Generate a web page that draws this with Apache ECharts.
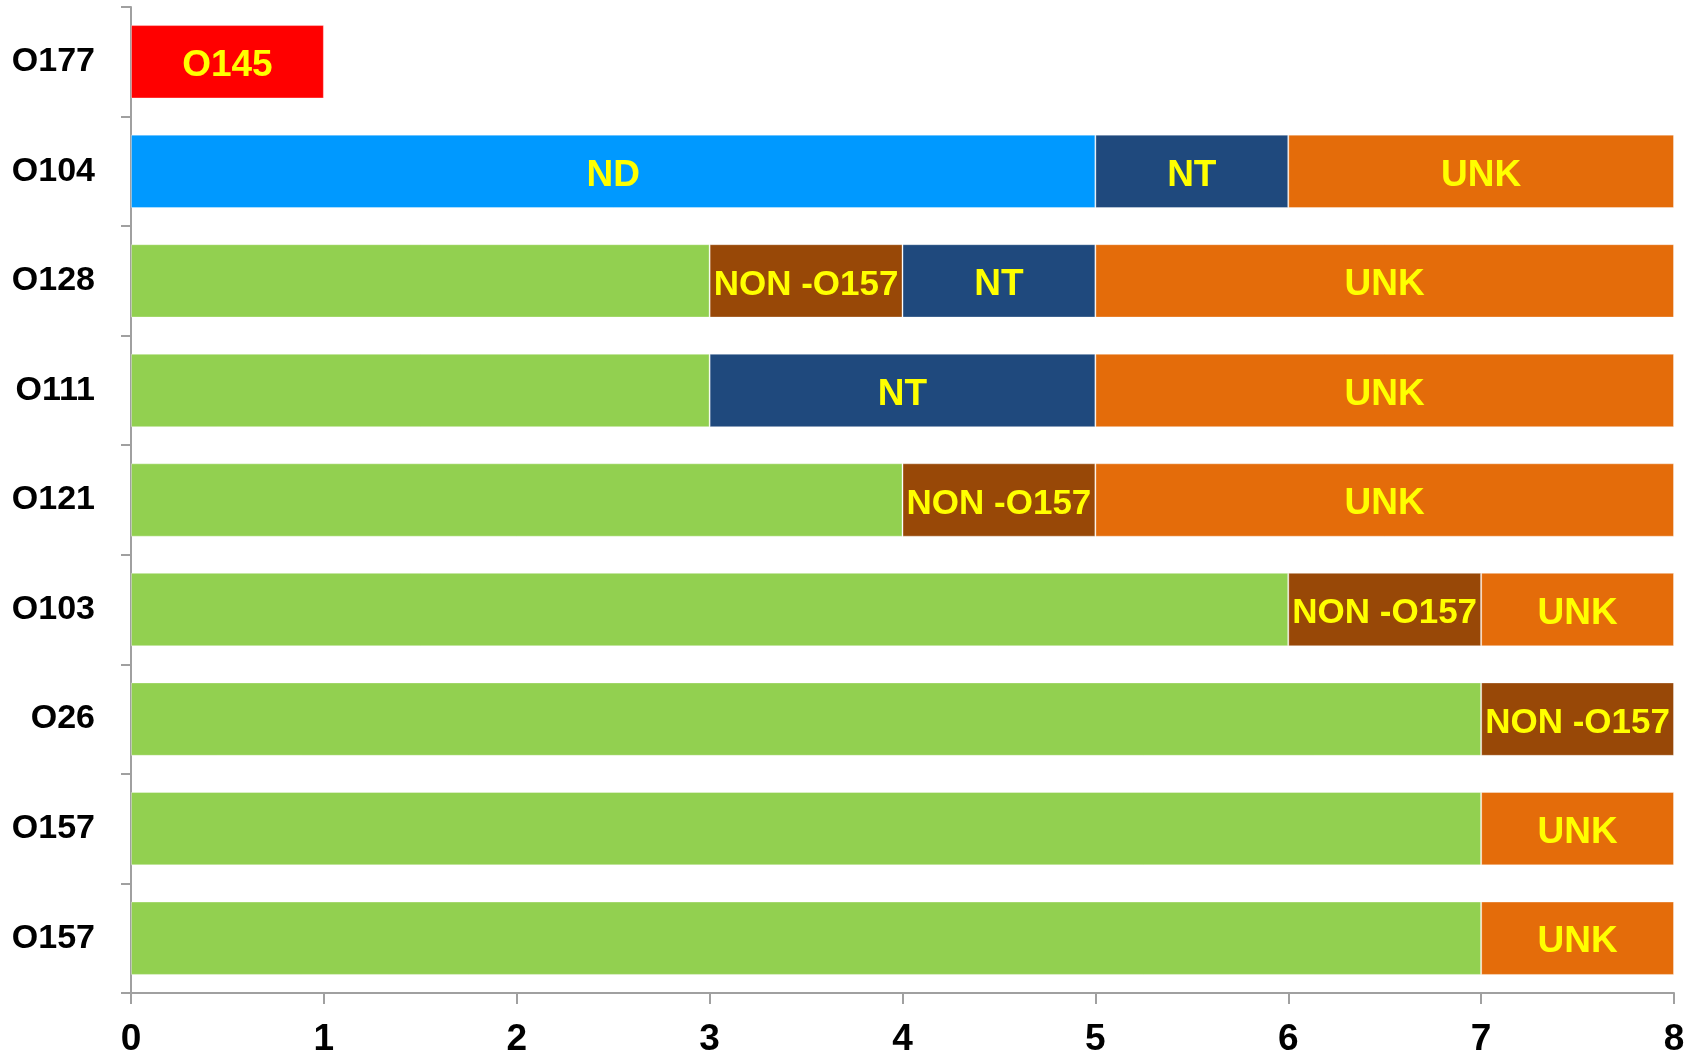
<!DOCTYPE html>
<html>
<head>
<meta charset="utf-8">
<script src="https://cdn.jsdelivr.net/npm/echarts@6/dist/echarts.min.js"></script>
<style>
  html, body { margin: 0; padding: 0; background: #fff; }
  #chart { width: 1695px; height: 1058px; }
</style>
</head>
<body>
<div id="chart"></div>
<script>
// Rows listed bottom to top, as the category axis draws them
const categories = ['O157', 'O157', 'O26', 'O103', 'O121', 'O111', 'O128', 'O104', 'O177'];

// Segment lengths per row (null where a row has no such segment)
const greenVals  = [7, 7, 7, 6, 4, 3, 3, null, null];
const blueVals   = [null, null, null, null, null, null, null, 5, null];
const redVals    = [null, null, null, null, null, null, null, null, 1];
const brownVals  = [null, null, 1, 1, 1, null, 1, null, null];
const navyVals   = [null, null, null, null, null, 2, 1, 1, null];
const orangeVals = [1, 1, null, 1, 3, 3, 3, 2, null];

const xTicks = [0, 1, 2, 3, 4, 5, 6, 7, 8];

const FONT = 'Liberation Sans, Arial, sans-serif';

function labelStyle(size) {
  return {
    show: true,
    position: 'inside',
    color: '#FFFF00',
    fontFamily: FONT,
    fontWeight: 'bold',
    fontSize: size,
    offset: [0, 4],
    formatter: p => p.seriesName
  };
}

function seg(name, data, color, labelSize) {
  return {
    name: name,
    type: 'bar',
    stack: 'total',
    barWidth: '67%',
    data: data,
    itemStyle: { color: color, borderColor: 'rgba(255,255,255,0.35)', borderWidth: 1 },
    label: labelSize ? labelStyle(labelSize) : { show: false },
    emphasis: { disabled: true }
  };
}

const chart = echarts.init(document.getElementById('chart'), null, { renderer: 'canvas' });
chart.setOption({
  animation: false,
  backgroundColor: '#ffffff',
  grid: { left: 131, right: 21, top: 7, bottom: 62, containLabel: false },
  xAxis: {
    type: 'value',
    min: xTicks[0],
    max: xTicks[xTicks.length - 1],
    interval: 1,
    axisLine: { show: true, lineStyle: { color: '#a0a0a0', width: 2 } },
    axisTick: { show: true, length: 11, lineStyle: { color: '#a0a0a0', width: 2 } },
    splitLine: { show: false },
    axisLabel: {
      color: '#000',
      fontFamily: FONT,
      fontWeight: 'bold',
      fontSize: 37,
      margin: 28
    }
  },
  yAxis: {
    type: 'category',
    data: categories,
    axisLine: { show: true, lineStyle: { color: '#a0a0a0', width: 2 } },
    axisTick: { show: true, length: 10, lineStyle: { color: '#a0a0a0', width: 2 } },
    axisLabel: {
      color: '#000',
      fontFamily: FONT,
      fontWeight: 'bold',
      fontSize: 34,
      margin: 36,
      padding: [10, 0, 0, 0]
    }
  },
  series: [
    seg('', greenVals, '#92D050', 0),
    seg('ND', blueVals, '#0099FF', 37),
    seg('O145', redVals, '#FF0000', 37),
    seg('NON -O157', brownVals, '#984807', 35),
    seg('NT', navyVals, '#1F497D', 37),
    seg('UNK', orangeVals, '#E46C0A', 37)
  ]
});
</script>
</body>
</html>
